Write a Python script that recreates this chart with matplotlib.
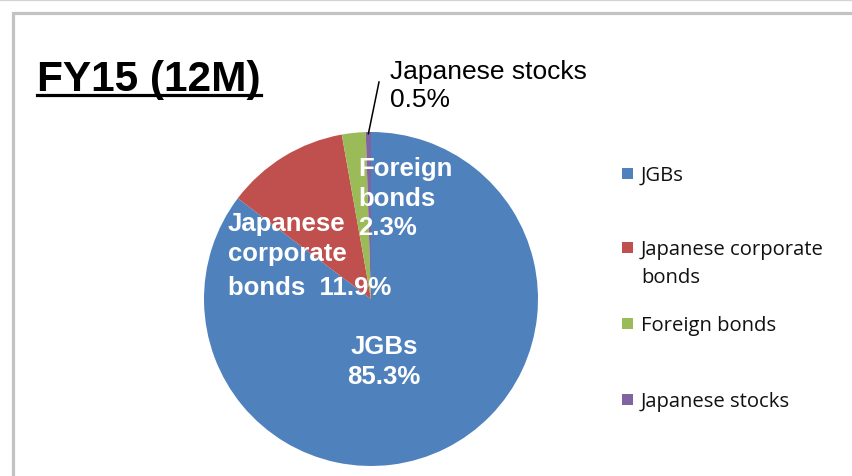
import matplotlib
matplotlib.use("Agg")
import matplotlib.pyplot as plt
import numpy as np
from matplotlib.lines import Line2D
from matplotlib.patches import Rectangle

# FY15 (12M) asset mix
categories = ["JGBs", "Japanese corporate bonds", "Foreign bonds", "Japanese stocks"]
shares = [85.3, 11.9, 2.3, 0.5]
slice_names = ["JGBs", "Japanese\ncorporate\nbonds", "Foreign\nbonds", "Japanese stocks"]
name_value_sep = ["\n", "  ", "\n", "\n"]
legend_names = ["JGBs", "Japanese corporate\nbonds", "Foreign bonds", "Japanese stocks"]
colors = ["#4F81BD", "#C0504D", "#9BBB59", "#8064A2"]

W, H = 852, 477
fig = plt.figure(figsize=(W / 100, H / 100), dpi=100)
fig.patch.set_facecolor("white")

def fx(px):
    return px / W

def fy(py):
    return 1 - py / H

# frame lines
fig.add_artist(Line2D([0, 1], [fy(0.5), fy(0.5)], color="#d4d4d4", lw=0.9))
fig.add_artist(Rectangle((fx(12.5), -0.1), 1.2, fy(13.5) + 0.1, fill=False,
                         edgecolor="#c3c3c3", lw=2.3))

# pie, centre (371, 300) px, radius 167 px
cx, cy, r = 371, 300, 167
ax = fig.add_axes([fx(cx - r), fy(cy + r), 2 * r / W, 2 * r / H])
wedges, _ = ax.pie(shares, colors=colors, startangle=90, counterclock=False,
                   radius=1, wedgeprops=dict(linewidth=0))
ax.set_xlim(-1, 1)
ax.set_ylim(-1, 1)
ax.axis("off")

def dx(px):
    return (px - cx) / r

def dy(py):
    return (cy - py) / r

label_font = dict(family="Liberation Sans", fontsize=18.5, fontweight="bold",
                  color="white", linespacing=1.3, va="top")
labels = [f"{n}{s}{v}%" for n, s, v in zip(slice_names, name_value_sep, shares)]

ax.text(dx(384), dy(335), labels[0], ha="center", multialignment="center", **label_font)
# corporate bonds label: last line set apart so it sits under the foreign-bonds label
corp_lines = labels[1].split("\n")
ax.text(dx(228), dy(212), "\n".join(corp_lines[:-1]), ha="left", **label_font)
ax.text(dx(228), dy(276), corp_lines[-1], ha="left", **label_font)
ax.text(dx(358), dy(157), labels[2], ha="left", **label_font)

# small slice: label outside with a leader line
ax.text(dx(390), dy(60), labels[3], ha="left", va="top", family="Liberation Sans",
        fontsize=19, color="black", linespacing=1.2, clip_on=False)
w = wedges[3]
mid = np.deg2rad((w.theta1 + w.theta2) / 2)
ax.add_line(Line2D([dx(379), np.cos(mid) * 0.99], [dy(83), np.sin(mid) * 0.99],
                   color="black", lw=1.1, clip_on=False))

# title
title = fig.text(fx(37), fy(91), "FY15 (12M)", family="Liberation Sans", fontsize=30.5,
                 fontweight="bold", ha="left", va="baseline")
fig.canvas.draw()
bb = title.get_window_extent()
fig.add_artist(Line2D([bb.x0 / W, bb.x1 / W], [fy(95.5), fy(95.5)], color="black", lw=2.3))

# legend
legend_y = [174, 248, 324, 400]
for name, c, y in zip(legend_names, colors, legend_y):
    fig.add_artist(Rectangle((fx(622), fy(y + 5.5)), 11 / W, 11 / H, color=c, lw=0))
    fig.text(fx(641), fy(y - 8), name, family="Open Sans", fontsize=14.6,
             color="#111111", ha="left", va="top", linespacing=1.55)

fig.savefig("out.png", dpi=100, facecolor="white")
